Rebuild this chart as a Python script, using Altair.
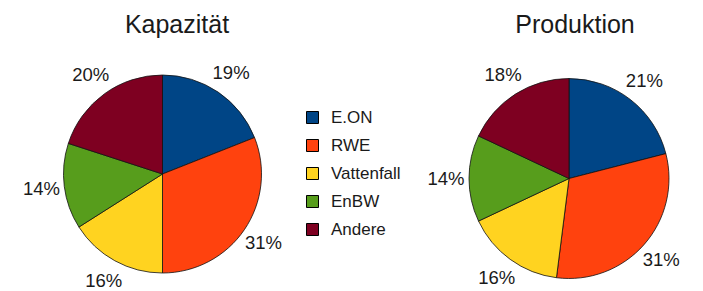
import altair as alt
import pandas as pd

companies = ["E.ON", "RWE", "Vattenfall", "EnBW", "Andere"]
kapazitaet = [19, 31, 16, 14, 20]
produktion = [21, 31, 16, 14, 18]
colors = ["#004586", "#ff420e", "#ffd320", "#579d1c", "#7e0021"]
titles = ["Kapazität", "Produktion"]

df = pd.DataFrame({
    "Firma": companies * 2,
    "Anteil": kapazitaet + produktion,
    "Diagramm": [titles[0]] * 5 + [titles[1]] * 5,
    "Reihe": list(range(5)) * 2,
})
df["Label"] = df["Anteil"].astype(str) + "%"

FONT = "Liberation Sans"
INK = "#1a1a1a"

color = alt.Color(
    "Firma:N",
    scale=alt.Scale(domain=companies, range=colors),
    sort=companies,
    legend=alt.Legend(
        orient="none", legendX=296, legendY=101, title=None,
        symbolType="square", symbolSize=144, symbolStrokeColor="#000000",
        symbolStrokeWidth=1, symbolOpacity=1, labelFontSize=17, labelFont=FONT,
        labelColor=INK, rowPadding=10, labelOffset=10, padding=0,
    ),
)


def pie(name, cx, cy, r, lr, tx):
    base = alt.Chart(df).transform_filter(alt.datum.Diagramm == name).encode(
        theta=alt.Theta("Anteil:Q", stack=True),
        order=alt.Order("Reihe:Q"),
        x=alt.value(cx),
        y=alt.value(cy),
    )
    arc = base.mark_arc(outerRadius=r, stroke="#111111", strokeWidth=0.8).encode(color=color)
    text = base.mark_text(radius=lr, fontSize=18.5, font=FONT, color=INK).encode(text="Label:N")
    title = alt.Chart(pd.DataFrame({"t": [name]})).mark_text(
        fontSize=25, font=FONT, color=INK, baseline="alphabetic", align="center"
    ).encode(x=alt.value(tx), y=alt.value(25), text="t:N")
    return [arc, text, title]


layers = pie(titles[0], 154.5, 166, 99, 122, 169) + pie(titles[1], 561, 170.5, 100, 123, 567)

chart = alt.layer(*layers).properties(
    width=687, height=283, autosize="none", padding=0, background="white"
).configure_view(stroke=None)

chart.save("out.html", embed_options={"renderer": "svg", "actions": False})
